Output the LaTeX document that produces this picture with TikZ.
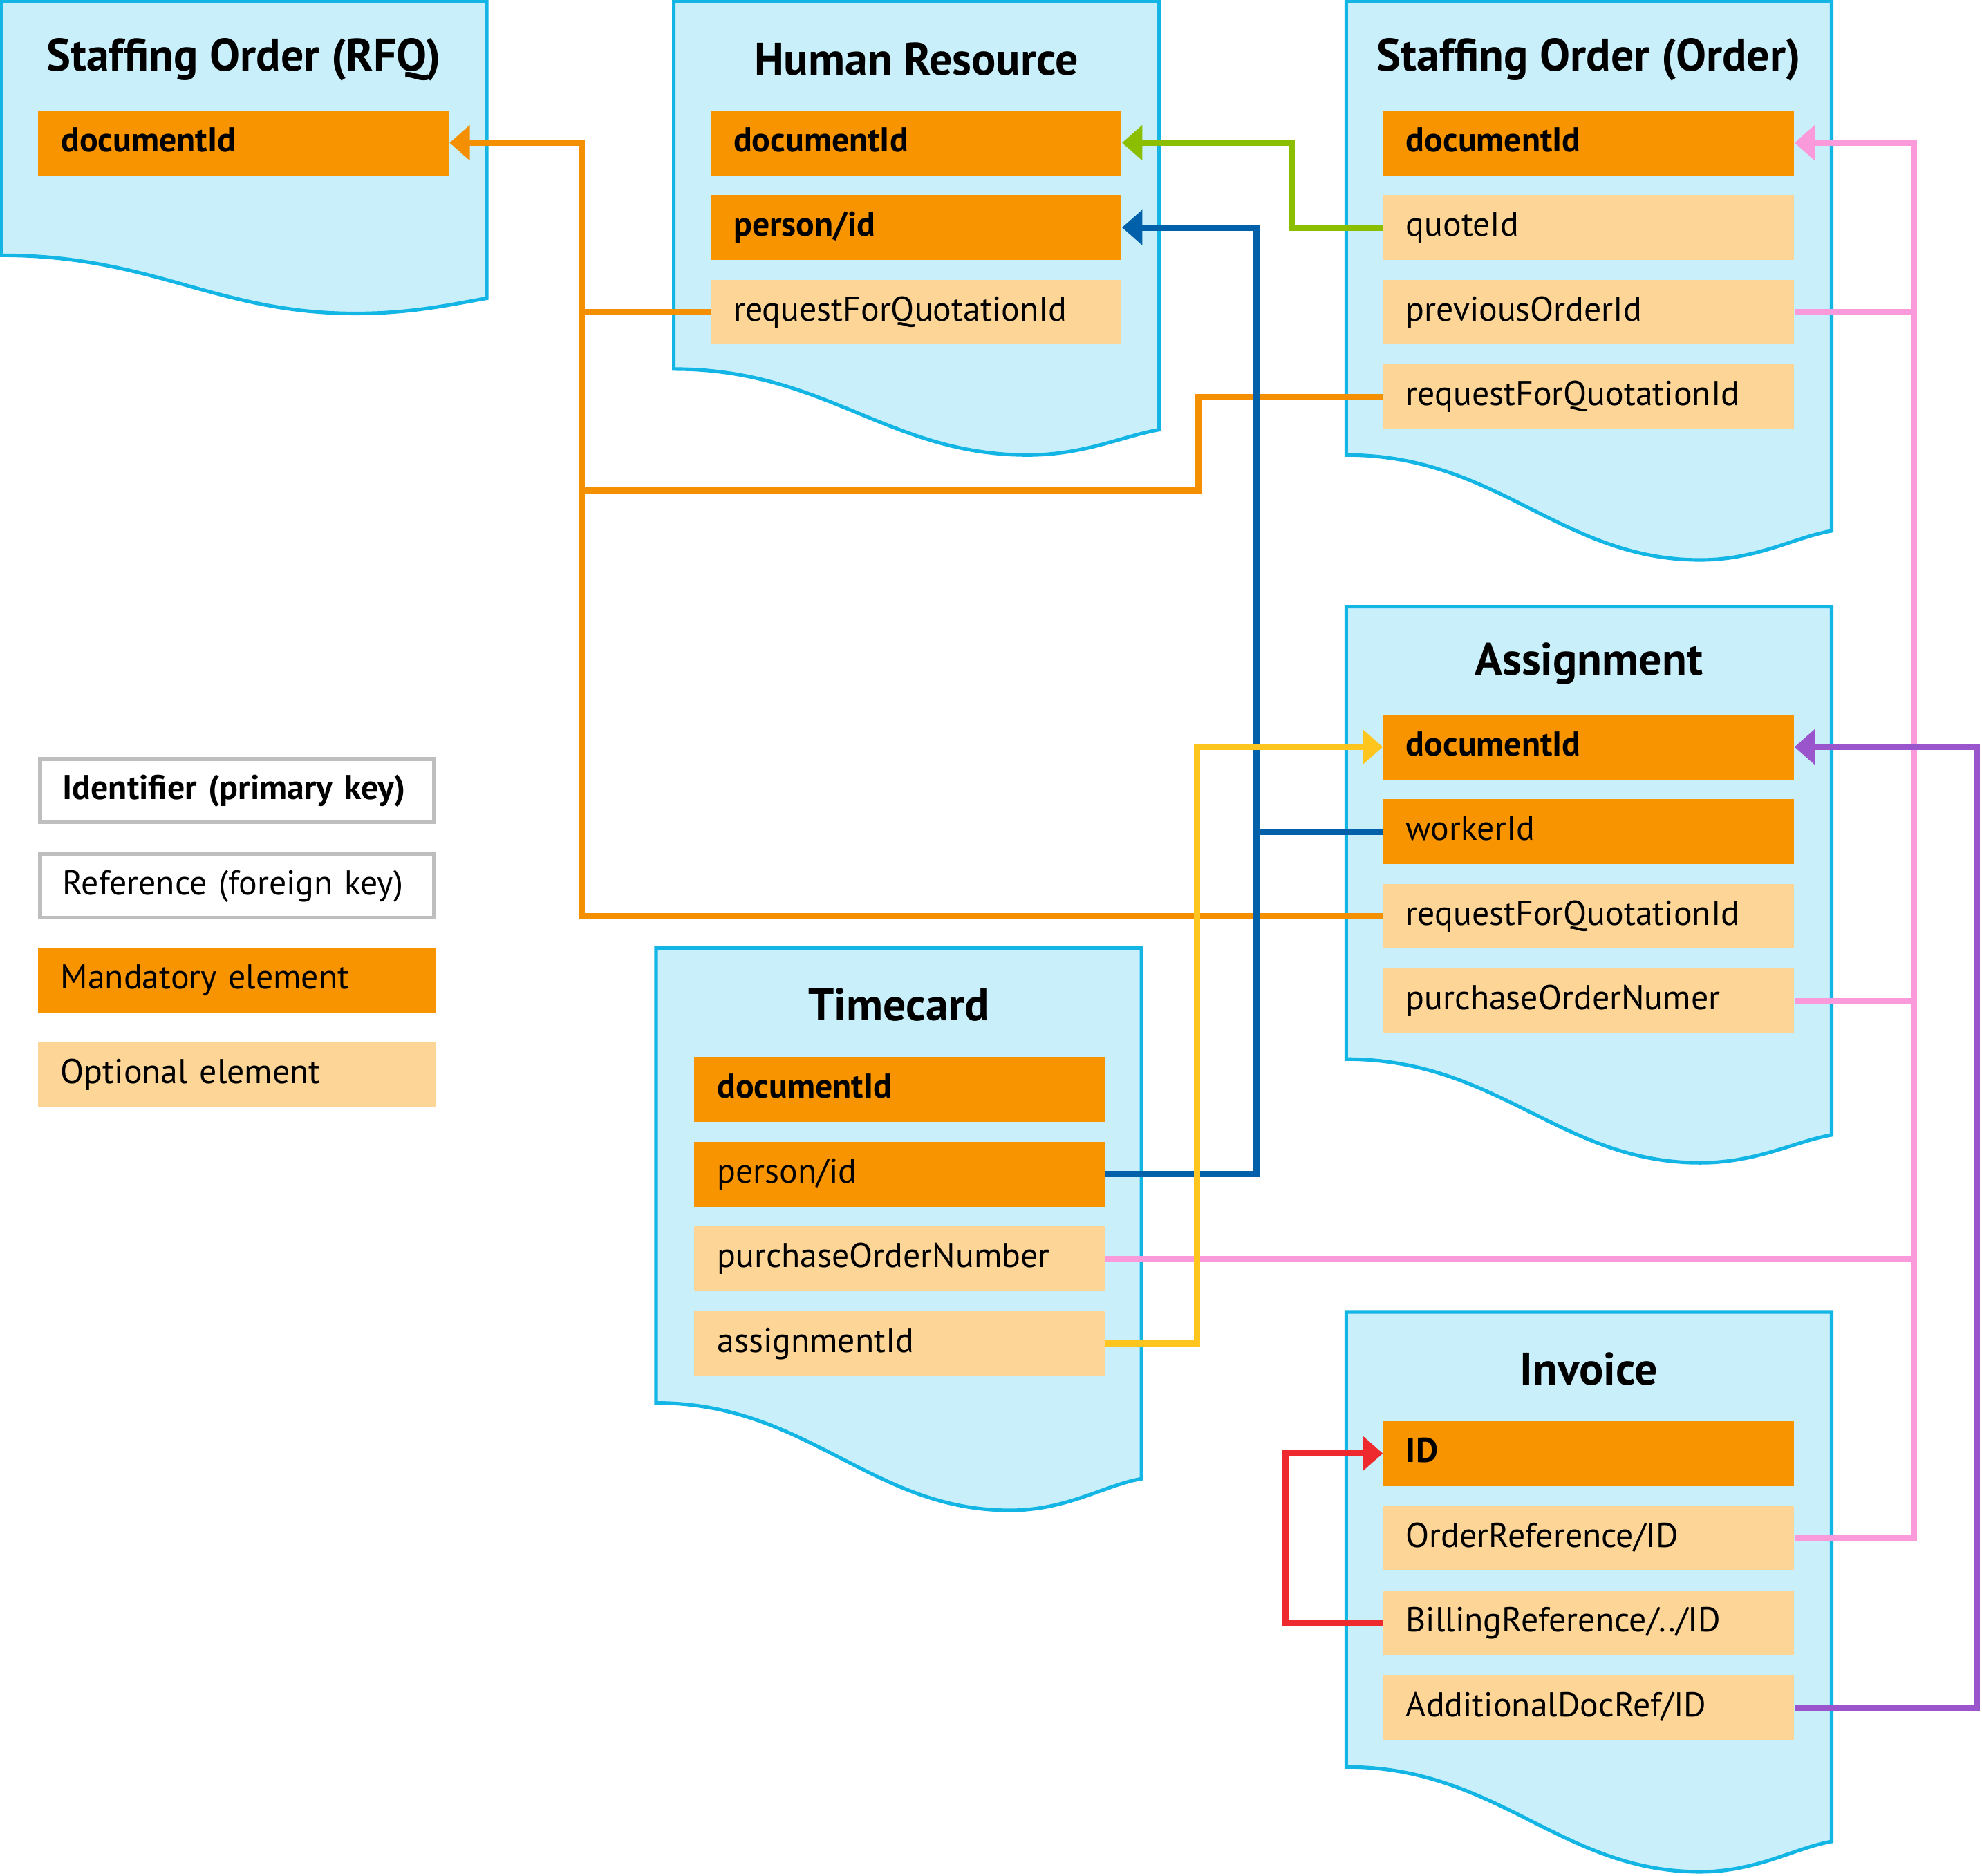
\documentclass[tikz,border=0pt]{standalone}
\usepackage{fontspec}
\setmainfont{PT Sans}
\usetikzlibrary{positioning}
\usetikzlibrary{arrows.meta}
\definecolor{pagefill}{HTML}{C9F0FA}
\definecolor{pageline}{HTML}{13B5E5}
\definecolor{mandfill}{HTML}{F79400}
\definecolor{optfill}{HTML}{FCD597}
\definecolor{legline}{HTML}{BEBEBE}
\definecolor{rfqorange}{HTML}{F49000}
\definecolor{quotegreen}{HTML}{8CBE00}
\definecolor{personblue}{HTML}{0060AA}
\definecolor{orderpink}{HTML}{FB9ADA}
\definecolor{assignyellow}{HTML}{FFC51F}
\definecolor{docrefpurple}{HTML}{9B55CC}
\definecolor{billred}{HTML}{EF2A2F}
% left x, top y, bottom-left y, lowest y, bottom-right y
\newcommand{\docpage}[5]{\filldraw[pagebox] (#1,#2) -- (#1,#3)
  .. controls ({#1+120},#3) and ({#1+170},#4) .. ({#1+280},#4)
  .. controls ({#1+325},#4) and ({#1+355},{#5+5}) .. ({#1+384},#5)
  -- ({#1+384},#2) -- cycle;}
\tikzset{
  pagebox/.style={fill=pagefill, draw=pageline, line width=1.6pt},
  pagetitle/.style={font=\fontsize{20.5}{24}\selectfont\bfseries},
  field/.style={rectangle, inner xsep=0.36cm, inner ysep=0pt, text width=5.78cm,
    minimum height=1.026cm, align=left, text height=11pt, text depth=3pt,
    font=\fontsize{15.5}{18}\selectfont},
  keyfield/.style={field, fill=mandfill, font=\fontsize{15.5}{18}\selectfont\bfseries},
  mandfield/.style={field, fill=mandfill},
  optfield/.style={field, fill=optfill},
  legbox/.style={field, text width=5.52cm, minimum height=1cm, draw=legline, line width=1.8pt},
  wire/.style={line width=2.8pt},
  wirehead/.style={-{Triangle[length=0.32cm, width=0.54cm]}}
}
\begin{document}
\begin{tikzpicture}[x=0.02cm, y=-0.02cm]
  \useasboundingbox (0,0) rectangle (1568,1484);
  % pages
  \docpage{1}{1}{202}{248}{236}
  \docpage{533}{1}{292}{360}{340}
  \docpage{1065}{1}{360}{443}{420}
  \docpage{1065}{480}{838}{920}{898}
  \docpage{519}{750}{1110}{1195}{1170}
  \docpage{1065}{1038}{1398}{1481}{1457}

  % Staffing Order (RFQ)
  \node[pagetitle] (rfq-title) at (193,47) {Staffing Order (RFQ)};
  \node[keyfield, anchor=north west] (rfq-doc) at (30,87) {documentId};

  % Human Resource
  \node[pagetitle] (hr-title) at (725,47) {Human Resource};
  \node[keyfield, anchor=north west] (hr-doc) at (562,87) {documentId};
  \node[keyfield, below=0.3cm of hr-doc] (hr-person) {person/id};
  \node[optfield, below=0.3cm of hr-person] (hr-rfq) {requestForQuotationId};

  % Staffing Order (Order)
  \node[pagetitle] (ord-title) at (1257,47) {Staffing Order (Order)};
  \node[keyfield, anchor=north west] (ord-doc) at (1094,87) {documentId};
  \node[optfield, below=0.3cm of ord-doc] (ord-quote) {quoteId};
  \node[optfield, below=0.3cm of ord-quote] (ord-prev) {previousOrderId};
  \node[optfield, below=0.3cm of ord-prev] (ord-rfq) {requestForQuotationId};

  % Assignment
  \node[pagetitle] (asg-title) at (1257,525) {Assignment};
  \node[keyfield, anchor=north west] (asg-doc) at (1094,565) {documentId};
  \node[mandfield, below=0.3cm of asg-doc] (asg-worker) {workerId};
  \node[optfield, below=0.3cm of asg-worker] (asg-rfq) {requestForQuotationId};
  \node[optfield, below=0.3cm of asg-rfq] (asg-po) {purchaseOrderNumer};

  % Timecard
  \node[pagetitle] (tc-title) at (711,795) {Timecard};
  \node[keyfield, anchor=north west] (tc-doc) at (549,836) {documentId};
  \node[mandfield, below=0.3cm of tc-doc] (tc-person) {person/id};
  \node[optfield, below=0.3cm of tc-person] (tc-po) {purchaseOrderNumber};
  \node[optfield, below=0.3cm of tc-po] (tc-assign) {assignmentId};

  % Invoice
  \node[pagetitle] (inv-title) at (1257,1083) {Invoice};
  \node[keyfield, anchor=north west] (inv-id) at (1094,1124) {ID};
  \node[optfield, below=0.3cm of inv-id] (inv-ordref) {OrderReference/ID};
  \node[optfield, below=0.3cm of inv-ordref] (inv-billref) {BillingReference/../ID};
  \node[optfield, below=0.3cm of inv-billref] (inv-addref) {AdditionalDocRef/ID};

  % legend
  \node[legbox, font=\fontsize{15.5}{18}\selectfont\bfseries] (leg-id) at (187.5,625.5) {Identifier (primary key)};
  \node[legbox] (leg-ref) at (187.5,701) {Reference (foreign key)};
  \node[mandfield, text width=5.58cm] (leg-mand) at (187.5,775.5) {Mandatory element};
  \node[optfield, text width=5.58cm] (leg-opt) at (187.5,850.5) {Optional element};

  % buses
  \coordinate (rfqbus) at (460,0);
  \coordinate (rfqjog) at (948,388);
  \coordinate (quotebus) at (1022,0);
  \coordinate (personbus) at (994,0);
  \coordinate (orderbus) at (1514,0);
  \coordinate (assignbus) at (947,0);
  \coordinate (docrefbus) at (1564,0);
  \coordinate (billbus) at (1017,0);

  % orange: request for quotation
  \draw[wire, rfqorange, wirehead] (asg-rfq.west) -| (rfqbus |- rfq-doc.east) -- (rfq-doc.east);
  \draw[wire, rfqorange] (hr-rfq.west) -- (hr-rfq.west -| rfqbus);
  \draw[wire, rfqorange] (ord-rfq.west) -| (rfqjog) -- (rfqjog -| rfqbus);
  % green: quote
  \draw[wire, quotegreen, wirehead] (ord-quote.west) -| (quotebus |- hr-doc.east) -- (hr-doc.east);
  % blue: person
  \draw[wire, personblue, wirehead] (tc-person.east) -| (personbus |- hr-person.east) -- (hr-person.east);
  \draw[wire, personblue] (asg-worker.west) -- (asg-worker.west -| personbus);
  % pink: order
  \draw[wire, orderpink, wirehead] (inv-ordref.east) -| (orderbus |- ord-doc.east) -- (ord-doc.east);
  \draw[wire, orderpink] (ord-prev.east) -- (ord-prev.east -| orderbus);
  \draw[wire, orderpink] (asg-po.east) -- (asg-po.east -| orderbus);
  \draw[wire, orderpink] (tc-po.east) -- (tc-po.east -| orderbus);
  % yellow: assignment
  \draw[wire, assignyellow, wirehead] (tc-assign.east) -| (assignbus |- asg-doc.west) -- (asg-doc.west);
  % purple: additional document
  \draw[wire, docrefpurple, wirehead] (inv-addref.east) -| (docrefbus |- asg-doc.east) -- (asg-doc.east);
  % red: billing
  \draw[wire, billred, wirehead] (inv-billref.west) -| (billbus |- inv-id.west) -- (inv-id.west);
\end{tikzpicture}
\end{document}
